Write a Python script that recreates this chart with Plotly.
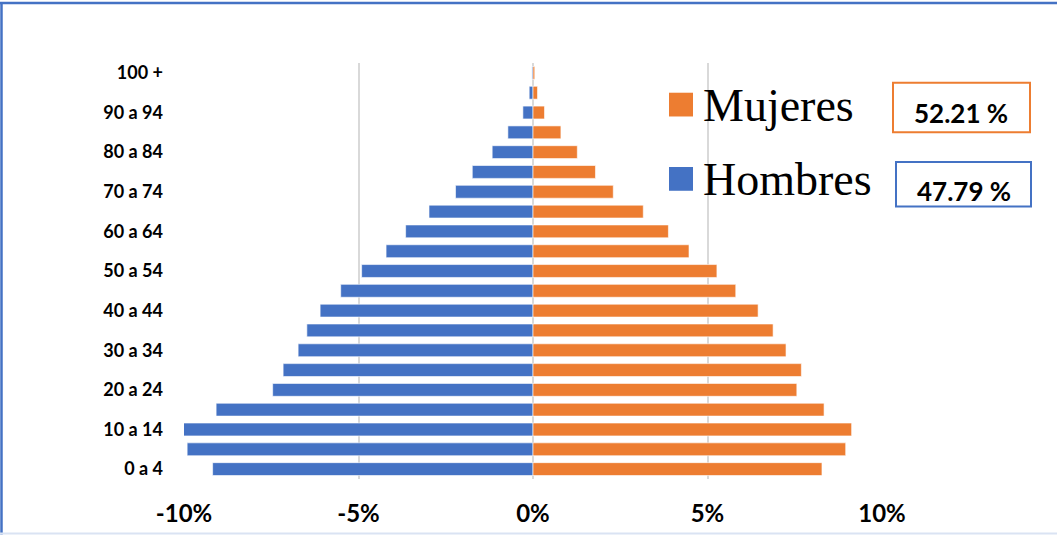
import plotly.graph_objects as go

# ---- data ----
age_groups = ["0 a 4", "5 a 9", "10 a 14", "15 a 19", "20 a 24", "25 a 29", "30 a 34",
              "35 a 39", "40 a 44", "45 a 49", "50 a 54", "55 a 59", "60 a 64", "65 a 69",
              "70 a 74", "75 a 79", "80 a 84", "85 a 89", "90 a 94", "95 a 99", "100 +"]
hombres = [9.18, 9.91, 10.02, 9.08, 7.46, 7.16, 6.73, 6.48, 6.10, 5.51, 4.91,
           4.21, 3.65, 2.98, 2.22, 1.74, 1.17, 0.72, 0.29, 0.11, 0.03]
mujeres = [8.28, 8.96, 9.13, 8.34, 7.56, 7.69, 7.25, 6.88, 6.45, 5.81, 5.27,
           4.47, 3.88, 3.16, 2.30, 1.79, 1.27, 0.80, 0.33, 0.13, 0.05]
tick_labels = age_groups[::2]
x_ticks = [-10, -5, 0, 5, 10]
x_tick_text = ["-10%", "-5%", "0%", "5%", "10%"]
total_mujeres = "52.21 %"
total_hombres = "47.79 %"

BLUE = "#4472C4"
ORANGE = "#ED7D31"

W, H = 1057, 539
L, R, T, B = 184, 175, 63, 56
PW, PH = W - L - R, H - T - B


def px(xp):
    return (xp - L) / PW


def py(yp):
    return (H - B - yp) / PH


fig = go.Figure()
fig.add_trace(go.Bar(
    y=age_groups, x=[-v for v in hombres], orientation="h", name="Hombres",
    marker=dict(color=BLUE, line=dict(color="rgba(255,255,255,0.6)", width=1)),
    customdata=hombres, hovertemplate="%{y}: %{customdata}%<extra>Hombres</extra>"))
fig.add_trace(go.Bar(
    y=age_groups, x=mujeres, orientation="h", name="Mujeres",
    marker=dict(color=ORANGE, line=dict(color="rgba(255,255,255,0.6)", width=1)),
    hovertemplate="%{y}: %{x}%<extra>Mujeres</extra>"))

fig.update_layout(
    width=W, height=H,
    margin=dict(l=L, r=R, t=T, b=B),
    paper_bgcolor="white", plot_bgcolor="white",
    barmode="overlay", bargap=0.35,
    showlegend=False,
    xaxis=dict(range=[-10, 10], tickvals=x_ticks, ticktext=x_tick_text,
               showgrid=True, gridcolor="#D9D9D9", gridwidth=2,
               zeroline=True, zerolinecolor="#D9D9D9", zerolinewidth=2,
               ticks="", ticklabelstandoff=18, showline=False,
               tickfont=dict(family="Lato", size=24, color="black", weight="bold")),
    yaxis=dict(type="category", categoryorder="array", categoryarray=age_groups,
               tickvals=tick_labels, ticktext=tick_labels,
               showgrid=False, zeroline=False, ticks="", ticklabelstandoff=20,
               tickfont=dict(family="Lato", size=18, color="black", weight="bold")),
    font=dict(family="Lato", color="black"),
)

shapes = []
# outer frame
shapes.append(dict(type="line", xref="paper", yref="paper", x0=px(0), x1=px(W), y0=py(2.5), y1=py(2.5),
                   line=dict(color=BLUE, width=2.5)))
shapes.append(dict(type="line", xref="paper", yref="paper", x0=px(1.5), x1=px(1.5), y0=py(2), y1=py(H),
                   line=dict(color=BLUE, width=2.5)))
shapes.append(dict(type="line", xref="paper", yref="paper", x0=px(0), x1=px(W), y0=py(538), y1=py(538),
                   line=dict(color="#DAE3F3", width=2)))
# legend squares
shapes.append(dict(type="rect", xref="paper", yref="paper", x0=px(669), x1=px(693), y0=py(117), y1=py(93),
                   fillcolor=ORANGE, line=dict(width=0)))
shapes.append(dict(type="rect", xref="paper", yref="paper", x0=px(669), x1=px(693), y0=py(192), y1=py(168),
                   fillcolor=BLUE, line=dict(width=0)))
# total boxes
shapes.append(dict(type="rect", xref="paper", yref="paper", x0=px(893), x1=px(1030), y0=py(133), y1=py(83),
                   fillcolor="white", line=dict(color=ORANGE, width=2)))
shapes.append(dict(type="rect", xref="paper", yref="paper", x0=px(896), x1=px(1031), y0=py(208), y1=py(163),
                   fillcolor="white", line=dict(color=BLUE, width=2)))

annotations = [
    dict(text="Mujeres", xref="paper", yref="paper", x=px(701), y=py(106), xanchor="left", yanchor="middle",
         showarrow=False, font=dict(family="Liberation Serif", size=46, color="black")),
    dict(text="Hombres", xref="paper", yref="paper", x=px(701), y=py(181), xanchor="left", yanchor="middle",
         showarrow=False, font=dict(family="Liberation Serif", size=46, color="black")),
    dict(text=total_mujeres, xref="paper", yref="paper", x=px(961), y=py(113), xanchor="center", yanchor="middle",
         showarrow=False, font=dict(family="Lato", size=26, color="black", weight="bold")),
    dict(text=total_hombres, xref="paper", yref="paper", x=px(964), y=py(192), xanchor="center", yanchor="middle",
         showarrow=False, font=dict(family="Lato", size=26, color="black", weight="bold")),
]
fig.update_layout(shapes=shapes, annotations=annotations)

post = (
    "var de=document.documentElement, b=document.body;"
    "de.style.margin='0';de.style.padding='0';b.style.margin='0';b.style.padding='0';"
    "de.style.overflow='hidden';b.style.overflow='hidden';"
    "var d=document.getElementById('{plot_id}');d.style.display='block';"
    "d.parentElement.style.display='block';d.parentElement.style.lineHeight='0';"
)
fig.write_html("out.html", post_script=post, config={"displayModeBar": False})
